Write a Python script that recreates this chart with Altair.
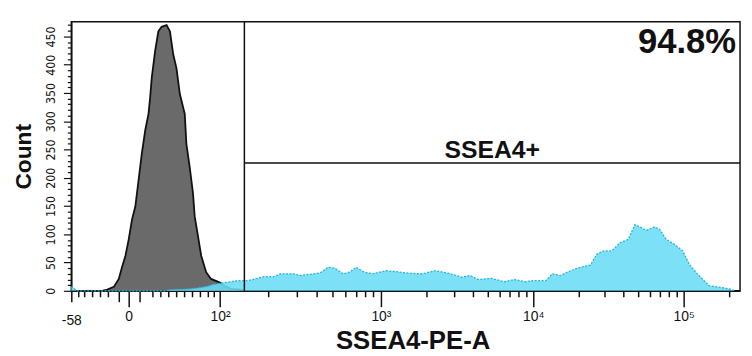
import altair as alt
import pandas as pd

# ---- data (x in display channels 0..1024 of the biexponential axis) ----
gray_x = [47, 55.0, 65.1, 72.7, 77.7, 82.9, 87.9, 92.9, 98.0, 103.0, 108.0, 113.2, 118.2,
          120.7, 123.2, 128.3, 133.3, 138.3, 145.9, 151.0, 156.1, 161.0, 166.2, 173.7,
          176.2, 181.3, 186.3, 188.9, 193.9, 198.9, 206.5, 214.0, 226.8, 234.3, 244.3, 259.5, 268]
gray_count = [0, 2, 7, 21, 42, 62, 91, 126, 149, 196, 243, 284, 313,
              342, 377, 424, 459, 467, 470, 459, 418, 394, 348, 313,
              260, 219, 173, 132, 97, 62, 33, 21, 15, 9, 3.5, 2, 0]

cyan_x = [0, 3, 6, 9, 145, 151.0, 178.7, 193.9, 209.0, 216.6, 231.8, 243.9, 254.5, 269.6,
          284.8, 294.9, 310.1, 320.1, 340.4, 350.4, 370.7, 380.7, 393.4, 403.4, 416.1,
          426.1, 436.3, 448.8, 461.6, 481.7, 496.9, 517.0, 537.3, 557.4, 577.6, 597.9,
          610.5, 623.0, 643.3, 663.5, 678.6, 693.8, 708.9, 726.6, 736.6, 749.4, 759.4,
          774.5, 784.7, 794.8, 804.8, 815.0, 827.5, 840.3, 852.8, 863.0, 873.0, 880.6,
          893.3, 900.9, 910.9, 923.6, 936.2, 946.3, 956.3, 966.4, 976.6, 991.7, 1006.9,
          1011.9, 1016]
cyan_count = [7, 6, 2, 0, 0, 2, 3, 5, 8, 11, 14, 16, 18, 18,
              22, 25, 25, 30, 30, 27, 30, 31.5, 41.5, 40, 30,
              33, 41.5, 33, 30, 35.5, 34, 31, 30, 35.5, 31, 24,
              27, 20, 22, 16, 20, 16, 18, 18, 30, 27, 33,
              40, 43, 45.5, 65, 70.5, 70.5, 85, 91, 117, 111.5, 107,
              113, 108.5, 91, 82, 70.5, 47, 33, 21, 9, 6.5, 3.5,
              2, 0]

# axis ticks (channel positions) and labels
x_major_ticks = [87.9, 227.7, 474.1, 707.4, 937.6]
x_major_labels = ["0", "10²", "10³", "10⁴", "10⁵"]
x_edge_tick = [0]
x_edge_label = ["-58"]
x_mid_ticks = [73.2, 104.5]
x_minor_ticks = [10.6, 20.1, 32.3, 44.4, 56.0, 124.7, 136.8, 148.9, 161.0, 173.1, 185.3,
                 197.4, 209.5, 217.7, 301.9, 345.2, 376.1, 399.9, 419.4, 435.9, 450.2,
                 462.7, 544.5, 585.5, 614.6, 637.2, 655.6, 671.2, 684.9, 696.7, 776.8,
                 817.2, 846.0, 868.3, 886.6, 901.9, 915.2, 927.0, 1007.0]

x_domain = [0, 1024]
y_domain = [0, 476]
y_ticks = list(range(0, 480, 10))

gate_x = [265]
gate_y = [226]
gate_label = ["SSEA4+"]
gate_pct = ["94.8%"]

# ---- build ----
gray_df = pd.DataFrame({"x": gray_x, "count": gray_count})
cyan_df = pd.DataFrame({"x": cyan_x, "count": cyan_count})

all_ticks = x_edge_tick + x_major_ticks + x_mid_ticks + x_minor_ticks
label_map = dict(zip(x_edge_tick + x_major_ticks, x_edge_label + x_major_labels))
expr = "''"
for v, lab in label_map.items():
    expr = f"datum.value == {v} ? '{lab}' : ({expr})"

maj_list = "[" + ",".join(str(v) for v in x_major_ticks) + "]"
mid_list = "[" + ",".join(str(v) for v in x_edge_tick + x_mid_ticks) + "]"

x_axis = alt.Axis(
    values=all_ticks,
    labelExpr=expr,
    tickSize={"condition": [
        {"test": f"indexof({maj_list}, datum.value) >= 0", "value": 16},
        {"test": f"indexof({mid_list}, datum.value) >= 0", "value": 11},
    ], "value": 6},
    labelPadding={"condition": {"test": "datum.value == 0", "value": 12}, "value": 3},
    labelFlush=False, labelOverlap=False, labelBound=False,
    labelFont="Liberation Sans", labelFontSize=14, labelColor="#111",
    tickColor="#111", tickWidth=1.5, domainColor="#111", domainWidth=1.5,
    grid=False, title="SSEA4-PE-A", titleFont="Liberation Sans", titleFontSize=26,
    titleFontWeight="bold", titleColor="#111", titlePadding=0, titleX=345,
)

y_axis = alt.Axis(
    values=y_ticks,
    labelExpr="datum.value % 50 == 0 ? datum.label : ''",
    tickSize={"condition": {"test": "datum.value % 50 == 0", "value": 8}, "value": 4},
    labelAngle=270, labelAlign="center", labelBaseline="bottom",
    labelPadding=6, labelOverlap=False, labelFlush=False,
    labelFont="Liberation Sans Narrow, DejaVu Sans Condensed, Liberation Sans",
    labelFontSize=12.5, labelColor="#111",
    tickColor="#111", tickWidth=1.2, domainColor="#111", domainWidth=1.5,
    grid=False, title="Count", titleFont="Liberation Sans", titleFontSize=23,
    titleFontWeight="bold", titleColor="#111", titlePadding=9,
)

xs = alt.Scale(domain=x_domain, nice=False, zero=False)
ys = alt.Scale(domain=y_domain, nice=False, zero=True)


def X(field):
    return alt.X(field, type="quantitative", scale=xs, axis=x_axis)


def Y(field):
    return alt.Y(field, type="quantitative", scale=ys, axis=y_axis)


gray_area = alt.Chart(gray_df).mark_area(color="#6a6a6a", opacity=1).encode(
    x=X("x"), y=Y("count"))
gray_line = alt.Chart(gray_df).mark_line(color="#111111", strokeWidth=1.8).encode(
    x=X("x"), y=Y("count"))
cyan_area = alt.Chart(cyan_df).mark_area(color="#6adcf6", opacity=0.88).encode(
    x=X("x"), y=Y("count"))
cyan_line = alt.Chart(cyan_df).mark_line(color="#22b4dc", strokeWidth=1.3,
                                         strokeDash=[2, 1.5]).encode(
    x=X("x"), y=Y("count"))

gate_df = pd.DataFrame({"gx": gate_x, "gy": gate_y, "label": gate_label,
                        "pct": gate_pct, "xmax": [x_domain[1]], "ymax": [y_domain[1]]})

gate_v = alt.Chart(gate_df).mark_rule(color="#111", strokeWidth=1.5).encode(
    x=X("gx"))
gate_h = alt.Chart(gate_df).mark_rule(color="#111", strokeWidth=1.5).encode(
    x=X("gx"), x2="xmax:Q", y=Y("gy"))
gate_text = alt.Chart(gate_df).transform_calculate(
    cx="(datum.gx + datum.xmax) / 2"
).mark_text(font="Liberation Sans", fontSize=25, fontWeight="bold", color="#111",
            align="center", baseline="alphabetic", dy=-5).encode(
    x=X("cx"), y=Y("gy"), text="label:N")
pct_text = alt.Chart(gate_df).mark_text(font="Liberation Sans", fontSize=35,
                                        fontWeight="bold", color="#111",
                                        align="right", baseline="alphabetic",
                                        dx=-4, dy=32).encode(
    x=X("xmax"), y=Y("ymax"), text="pct:N")

chart = alt.layer(gray_area, gray_line, cyan_area, cyan_line, gate_v, gate_h,
                  gate_text, pct_text).properties(
    width=676, height=272,
    autosize=alt.AutoSizeParams(type="none"),
    padding={"left": 64, "top": 12, "right": 4, "bottom": 62},
    background="white",
).configure_view(stroke="#111", strokeWidth=1.5)

chart.save("out.html", embed_options={"renderer": "svg", "actions": False})
